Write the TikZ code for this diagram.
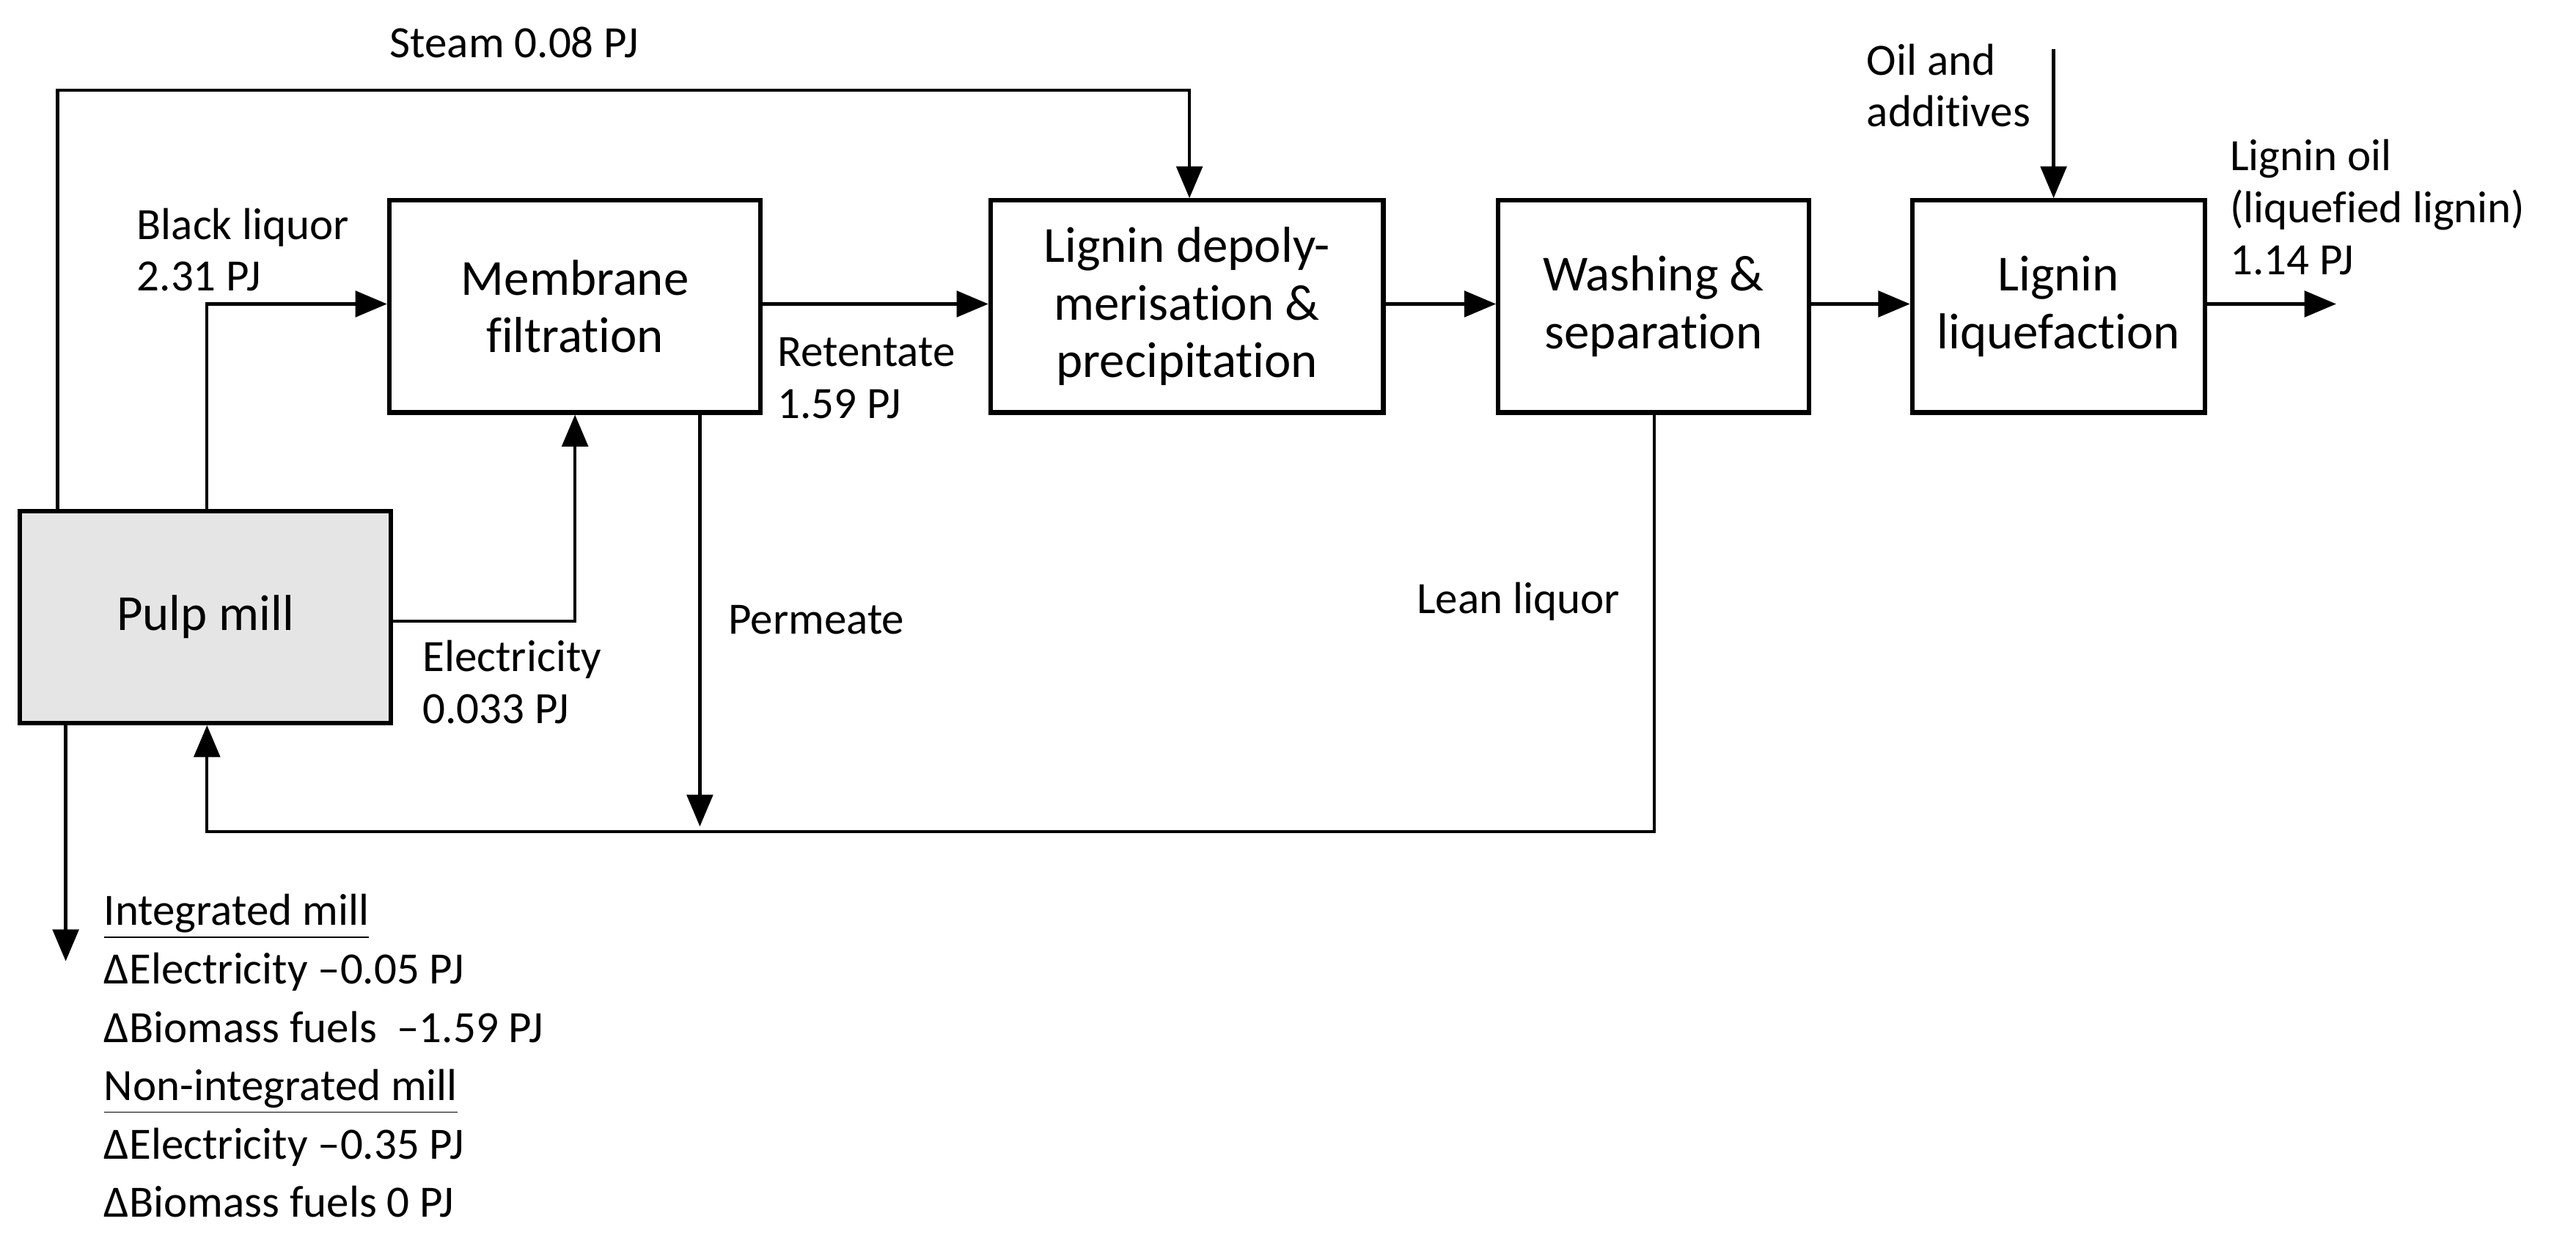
\documentclass[tikz,border=0pt]{standalone}
\usepackage{fontspec}
\setmainfont{Carlito}[Ligatures={NoCommon}]
\usetikzlibrary{arrows.meta}
\begin{document}
\begin{tikzpicture}[x=0.02cm,y=-0.02cm,
 box/.style={draw,line width=1.6pt,minimum width=#1,inner sep=0pt,align=center,font=\fontsize{17.5}{20}\selectfont},
 flow/.style={line width=1.1pt,-{Triangle[length=11pt,width=9pt]}},
 lab/.style={font=\fontsize{15.5}{18}\selectfont,align=left,inner sep=0pt}]
\useasboundingbox (0,0) rectangle (1568,758);
\node[box=226*0.02cm,minimum height=129*0.02cm,fill=gray!20] (pulp) at (125,375.5) {Pulp mill};
\node[box=226*0.02cm,minimum height=129*0.02cm] (mem) at (350,186.5) {Membrane\\filtration};
\node[box=239*0.02cm,minimum height=129*0.02cm] (dep) at (722.5,186.5) {Lignin depoly-\\merisation \&\\precipitation};
\node[box=189*0.02cm,minimum height=129*0.02cm] (wash) at (1006.5,186.5) {Washing \&\\separation};
\node[box=178*0.02cm,minimum height=129*0.02cm] (liq) at (1253,186.5) {Lignin\\liquefaction};
\coordinate (s1) at (35,55); \coordinate (s2) at (724,55);
\draw[flow] (pulp.north -| s1) -- (s1) -- (s2) -- (dep.north -| s2);
\coordinate (b1) at (126,185);
\draw[flow] (pulp.north -| b1) -- (b1) -- (mem.west |- b1);
\coordinate (e1) at (350,378);
\draw[flow] (pulp.east |- e1) -- (e1) -- (mem.south);
\draw[flow] (mem.east |- 0,185) -- (dep.west |- 0,185);
\draw[flow] (dep.east |- 0,185) -- (wash.west |- 0,185);
\draw[flow] (wash.east |- 0,185) -- (liq.west |- 0,185);
\coordinate (out) at (1422,185);
\draw[flow] (liq.east |- out) -- (out);
\coordinate (oil) at (1250,30);
\draw[flow] (oil) -- (liq.north -| oil);
\coordinate (p1) at (426,503);
\draw[flow] (mem.south -| p1) -- (p1);
\coordinate (l1) at (1007,506); \coordinate (l2) at (126,506);
\draw[flow] (wash.south -| l1) -- (l1) -- (l2) -- (pulp.south -| l2);
\coordinate (d1) at (40,585);
\draw[flow] (pulp.south -| d1) -- (d1);
\node[lab,anchor=west] (t1) at (237,26) {Steam 0.08 PJ};
\node[lab,anchor=west] (t2) at (83,152) {Black liquor\\2.31 PJ};
\node[lab,anchor=west] (t3) at (473,230) {Retentate\\1.59 PJ};
\node[lab,anchor=west] (t4) at (257,415) {Electricity\\0.033 PJ};
\node[lab,anchor=west] (t5) at (443,377) {Permeate};
\node[lab,anchor=west] (t6) at (862,366) {Lean liquor};
\node[lab,anchor=west] (t7) at (1136,52) {Oil and\\additives};
\node[lab,anchor=west] (t8) at (1357,126) {Lignin oil\\(liquefied lignin)\\1.14 PJ};
\node[lab,anchor=north west,font=\fontsize{15.5}{20.2}\selectfont] (t9) at (63,544) {\underline{Integrated mill}\\ΔElectricity –0.05 PJ\\ΔBiomass fuels\ \ –1.59 PJ\\\underline{Non-integrated mill}\\ΔElectricity –0.35 PJ\\ΔBiomass fuels 0 PJ};
\end{tikzpicture}
\end{document}
